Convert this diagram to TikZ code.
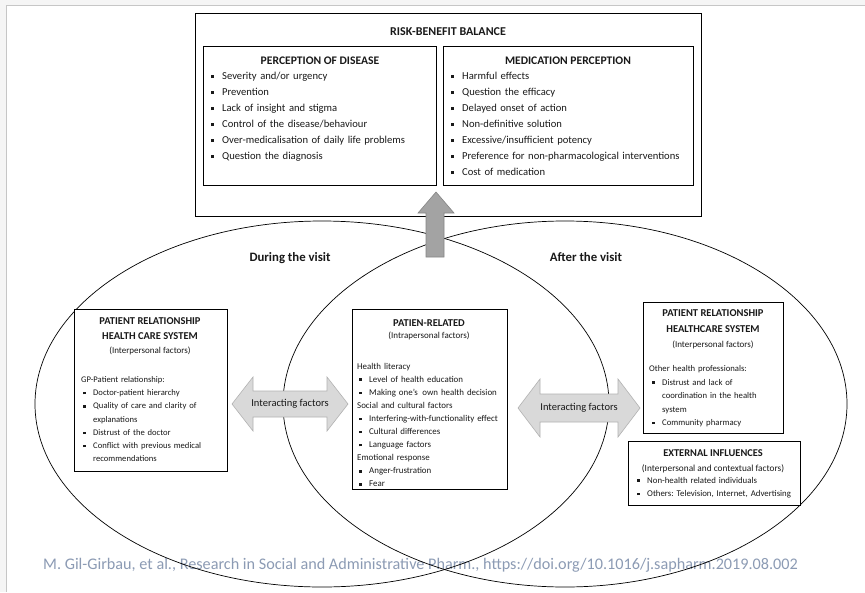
\documentclass[tikz,border=0pt]{standalone}
\usepackage{fontspec}
\setmainfont{Carlito}
\frenchspacing
\definecolor{citec}{RGB}{140,155,180}
\definecolor{txt}{RGB}{25,25,25}
\newcommand{\sqa}{\rule[1.5pt]{2.8pt}{2.8pt}}
\newcommand{\sqb}{\rule[1.3pt]{2.4pt}{2.4pt}}
\newcommand{\bA}{\makebox[11pt][l]{\sqa}}
\newcommand{\bB}[1]{\hspace*{#1}\makebox[10pt][l]{\sqb}}
\tikzset{
  box/.style={draw=black, line width=1.4pt, fill=white, inner sep=0pt, anchor=north west},
  lst/.style={anchor=base west, inner sep=0pt, align=left, text=txt},
  hd/.style={anchor=base, inner sep=0pt, text=txt, font=\bfseries},
  darr/.style={draw=gray!60, fill=gray!30, line width=0.6pt, line join=miter},
  uarr/.style={draw=gray!95, fill=gray!72, line width=0.6pt},
  ell/.style={draw=black, line width=0.7pt}
}
\begin{document}
\begin{tikzpicture}[x=1pt,y=-1pt]
\useasboundingbox (0,0) rectangle (865,592);
% window frame
\fill[gray!8] (0,0) rectangle (865,592);
\fill[white] (6.5,5.5) rectangle (865,592);
\draw[gray!45, line width=1pt] (6.5,592) -- (6.5,5.5) -- (865,5.5);
% citation
\node[anchor=west, inner sep=0pt, text=citec, font=\fontsize{16.2}{16}\selectfont] (cite) at (43,565) {M. Gil-Girbau, et al., Research in Social and Administrative Pharm., https://doi.org/10.1016/j.sapharm.2019.08.002};
% ellipses
\draw[ell] (322,404) ellipse [x radius=287, y radius=183];
\draw[ell] (565,404) ellipse [x radius=282, y radius=183];
% top box
\node[box, minimum width=506, minimum height=203] (rb) at (195,13) {};
\node[hd, font=\bfseries\fontsize{12}{12}\selectfont] (rbt) at (448,35.5) {RISK-BENEFIT BALANCE};
\node[box, minimum width=233, minimum height=139] (pd) at (203,46) {};
\node[box, minimum width=250, minimum height=139] (mp) at (443,46) {};
\node[hd, font=\bfseries\fontsize{11.6}{12}\selectfont] (pdt) at (320,64) {PERCEPTION OF DISEASE};
\node[hd, font=\bfseries\fontsize{11.6}{12}\selectfont] (mpt) at (568,64) {MEDICATION PERCEPTION};
\node[lst, text width=228, font=\fontsize{10.6}{16}\selectfont] (pdl) at (211,79.5) {\bA Severity and/or urgency\\ \bA Prevention\\ \bA Lack of insight and stigma\\ \bA Control of the disease/behaviour\\ \bA Over-medicalisation of daily life problems\\ \bA Question the diagnosis};
\node[lst, text width=245, font=\fontsize{10.6}{16}\selectfont] (mpl) at (451,79.5) {\bA Harmful effects\\ \bA Question the efficacy\\ \bA Delayed onset of action\\ \bA Non-definitive solution\\ \bA Excessive/insufficient potency\\ \bA Preference for non-pharmacological interventions\\ \bA Cost of medication};
% up arrow
\draw[uarr] (436,192) -- (454,213) -- (444,213) -- (444,257) -- (426,257) -- (426,213) -- (418,213) -- cycle;
% visit labels
\node[hd, font=\bfseries\fontsize{12.8}{13}\selectfont] (dv) at (290,261) {During the visit};
\node[hd, font=\bfseries\fontsize{12.8}{13}\selectfont] (av) at (586,261) {After the visit};
% left box
\node[box, minimum width=153, minimum height=162] (lb) at (74,309) {};
\node[hd, font=\bfseries\fontsize{10.5}{11}\selectfont] (lbt1) at (150,324) {PATIENT RELATIONSHIP};
\node[hd, font=\bfseries\fontsize{10.5}{11}\selectfont] (lbt2) at (150,339) {HEALTH CARE SYSTEM};
\node[hd, font=\fontsize{9}{9}\selectfont] (lbs) at (150,353) {(Interpersonal factors)};
\node[lst, text width=148, font=\fontsize{8.6}{13.2}\selectfont] (lbl) at (81,382.5) {GP-Patient relationship:\\ \bB{2pt}Doctor-patient hierarchy\\ \bB{2pt}Quality of care and clarity of\\ \hspace*{12pt}explanations\\ \bB{2pt}Distrust of the doctor\\ \bB{2pt}Conflict with previous medical\\ \hspace*{12pt}recommendations};
% centre box
\node[box, minimum width=155, minimum height=180] (cb) at (352,309) {};
\node[hd, font=\bfseries\fontsize{10.5}{11}\selectfont] (cbt) at (429,326.5) {PATIEN-RELATED};
\node[hd, font=\fontsize{9}{9}\selectfont] (cbs) at (429,338) {(Intrapersonal factors)};
\node[lst, text width=152, font=\fontsize{8.9}{13.1}\selectfont] (cbl) at (357,369) {Health literacy\\ \bB{2pt}Level of health education\\ \bB{2pt}Making one's\, own health decision\\ Social and cultural factors\\ \bB{2pt}Interfering-with-functionality effect\\ \bB{2pt}Cultural differences\\ \bB{2pt}Language factors\\ Emotional response\\ \bB{2pt}Anger-frustration\\ \bB{2pt}Fear};
% right top box
\node[box, minimum width=140, minimum height=131] (rt) at (643,302) {};
\node[hd, font=\bfseries\fontsize{10.5}{11}\selectfont] (rtt1) at (713,316) {PATIENT RELATIONSHIP};
\node[hd, font=\bfseries\fontsize{10.5}{11}\selectfont] (rtt2) at (713,332) {HEALTHCARE SYSTEM};
\node[hd, font=\fontsize{9}{9}\selectfont] (rts) at (713,347) {(Interpersonal factors)};
\node[lst, text width=138, font=\fontsize{8.7}{13.5}\selectfont] (rtl) at (649,371.5) {Other health professionals:\\ \bB{3pt}Distrust and lack of\\ \hspace*{13pt}coordination in the health\\ \hspace*{13pt}system\\ \bB{3pt}Community pharmacy};
% external influences box
\node[box, minimum width=172, minimum height=64] (ex) at (628,441) {};
\node[hd, font=\bfseries\fontsize{10.4}{11}\selectfont] (ext) at (713,456) {EXTERNAL INFLUENCES};
\node[hd, font=\fontsize{9.3}{9}\selectfont] (exs) at (713,471) {(Interpersonal and contextual factors)};
\node[lst, text width=165, font=\fontsize{8.8}{13.5}\selectfont] (exl) at (635,483) {\bB{2pt}Non-health related individuals\\ \bB{2pt}Others: Television, Internet, Advertising};
% double arrows
\draw[darr] (232,404) -- (253,377) -- (253,391) -- (327,391) -- (327,377) -- (348,404) -- (327,431) -- (327,417) -- (253,417) -- (253,431) -- cycle;
\draw[darr] (518,408) -- (540,379) -- (540,394) -- (618,394) -- (618,379) -- (640,408) -- (618,437) -- (618,422) -- (540,422) -- (540,437) -- cycle;
\node[inner sep=0pt, text=txt, font=\fontsize{10.5}{10}\selectfont] (if1) at (290,404) {Interacting factors};
\node[inner sep=0pt, text=txt, font=\fontsize{10.5}{10}\selectfont] (if2) at (579,408) {Interacting factors};
\end{tikzpicture}
\end{document}
